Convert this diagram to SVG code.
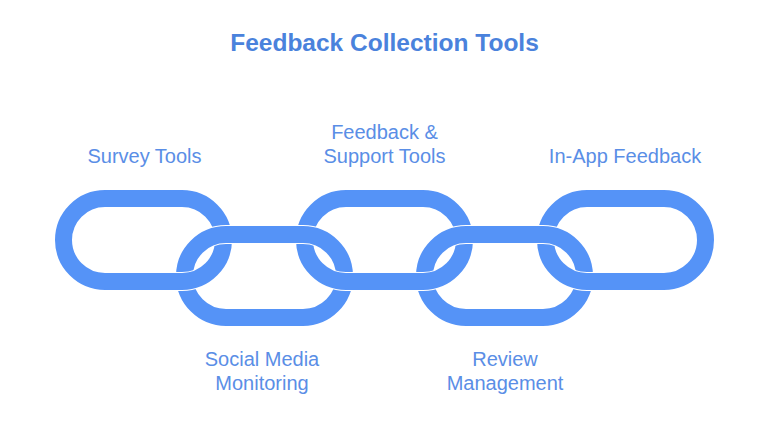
<svg xmlns="http://www.w3.org/2000/svg" width="769" height="433" viewBox="0 0 769 433">
<style>
.title{font-family:"Liberation Sans",Arial,sans-serif;font-size:24.5px;font-weight:bold;fill:#4a82dc;text-anchor:middle}
.lbl{font-family:"Liberation Sans",Arial,sans-serif;font-size:20px;fill:#5a8ee6;text-anchor:middle}
.halo{fill:none;stroke:#ffffff;stroke-width:19}
.link{fill:none;stroke:#5593f7;stroke-width:17}
</style>
<defs>
<rect id="lk" x="8.5" y="8.5" width="160" height="83" rx="41.5" ry="41.5"/>
<clipPath id="band"><rect x="0" y="258" width="769" height="45"/></clipPath>
</defs>
<rect width="769" height="433" fill="#ffffff"/>
<text class="title" x="384.5" y="50.5">Feedback Collection Tools</text>
<g id="connectors">
<g id="link1"><use href="#lk" class="link" transform="translate(55,190)"/></g>
<g id="link3"><use href="#lk" class="link" transform="translate(296,190)"/></g>
<g id="link5"><use href="#lk" class="link" transform="translate(537,190)"/></g>
<g id="link2"><use href="#lk" class="halo" transform="translate(176,226)"/><use href="#lk" class="link" transform="translate(176,226)"/></g>
<g id="link4"><use href="#lk" class="halo" transform="translate(416,226)"/><use href="#lk" class="link" transform="translate(416,226)"/></g>
<g clip-path="url(#band)">
<use href="#lk" class="halo" transform="translate(55,190)"/><use href="#lk" class="link" transform="translate(55,190)"/>
<use href="#lk" class="halo" transform="translate(296,190)"/><use href="#lk" class="link" transform="translate(296,190)"/>
<use href="#lk" class="halo" transform="translate(537,190)"/><use href="#lk" class="link" transform="translate(537,190)"/>
</g>
</g>
<g id="n1"><text class="lbl" x="144.5" y="163">Survey Tools</text></g>
<g id="n2"><text class="lbl" x="262" y="366">Social Media</text><text class="lbl" x="262" y="390">Monitoring</text></g>
<g id="n3"><text class="lbl" x="384.5" y="139">Feedback &amp;</text><text class="lbl" x="384.5" y="163">Support Tools</text></g>
<g id="n4"><text class="lbl" x="505" y="366">Review</text><text class="lbl" x="505" y="390">Management</text></g>
<g id="n5"><text class="lbl" x="625" y="163">In-App Feedback</text></g>
</svg>
